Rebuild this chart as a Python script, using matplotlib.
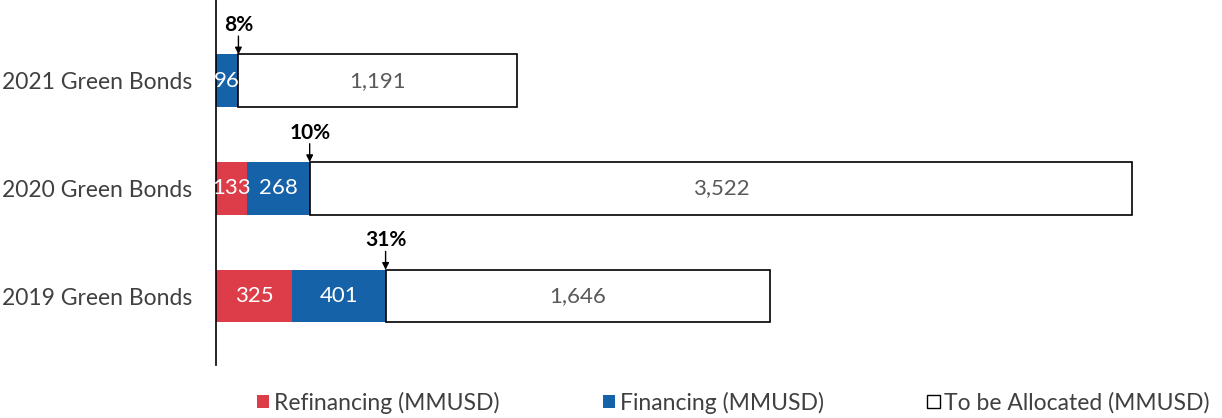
import numpy as np
import matplotlib
matplotlib.use("Agg")
import matplotlib.pyplot as plt
from matplotlib.patches import Patch

plt.rcParams['font.family'] = ['Lato', 'DejaVu Sans']

# data
categories = ["2019 Green Bonds", "2020 Green Bonds", "2021 Green Bonds"]
refinancing = [325, 133, 0]
financing = [401, 268, 96]
to_allocate = [1646, 3522, 1191]
pct_labels = ["31%", "10%", "8%"]

red = "#DD3D49"
blue = "#1562A8"
grey = "#595959"

fig = plt.figure(figsize=(12.22, 4.18), dpi=100)
ax = fig.add_axes([216/1222, 1 - 365/418, (1210-216)/1222, 365/418])

y = np.arange(len(categories))
h = 0.49
ref = np.array(refinancing)
fin = np.array(financing)
tba = np.array(to_allocate)

ax.barh(y, ref, height=h, color=red, edgecolor="none")
ax.barh(y, fin, left=ref, height=h, color=blue, edgecolor="none")
ax.barh(y, tba, left=ref + fin, height=h, color="white", edgecolor="black", lw=1.2)

for i in range(len(y)):
    if ref[i] > 0:
        ax.text(ref[i] / 2, y[i], f"{ref[i]:,}", color="white", ha="center", va="center", fontsize=16)
    ax.text(ref[i] + fin[i] / 2, y[i], f"{fin[i]:,}", color="white", ha="center", va="center", fontsize=16)
    ax.text(ref[i] + fin[i] + tba[i] / 2, y[i], f"{tba[i]:,}", color=grey,
            ha="center", va="center", fontsize=16)
    alloc = ref[i] + fin[i]
    ax.annotate("", xy=(alloc, y[i] + h / 2), xytext=(alloc, y[i] + h / 2 + 0.17),
                arrowprops=dict(arrowstyle="-|>", color="black", lw=1, mutation_scale=10,
                                shrinkA=0, shrinkB=0))
    ax.text(alloc, y[i] + h / 2 + 0.18, pct_labels[i], ha="center", va="bottom",
            fontsize=15, fontweight="bold", color="black")

ax.set_xlim(0, (1210 - 216) / 0.2336)
ax.set_ylim(-0.64, 2.75)
ax.set_yticks(y)
ax.set_yticklabels(categories, fontsize=16.5, color="#404040")
ax.tick_params(axis="y", length=0, pad=17)
ax.set_xticks([])
for s in ["top", "right", "bottom"]:
    ax.spines[s].set_visible(False)
ax.spines["left"].set_linewidth(1.2)

handles = [Patch(facecolor=red, edgecolor="none", label="Refinancing (MMUSD)"),
           Patch(facecolor=blue, edgecolor="none", label="Financing (MMUSD)"),
           Patch(facecolor="white", edgecolor="black", label="To be Allocated (MMUSD)")]
leg = fig.legend(handles=handles, ncol=3, loc="center", bbox_to_anchor=(0.6, 0.037),
                 frameon=False, fontsize=16.5, handlelength=0.55, handleheight=0.55,
                 handletextpad=0.2, columnspacing=4.5, borderpad=0.1)
for t in leg.get_texts():
    t.set_color("#404040")

fig.savefig("out.png", dpi=100)
